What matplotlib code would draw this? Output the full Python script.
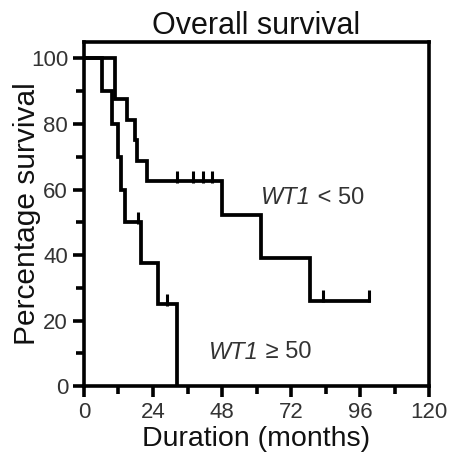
import numpy as np
import matplotlib
matplotlib.use("Agg")
import matplotlib.pyplot as plt

plt.rcParams['font.family'] = ['Liberation Sans', 'DejaVu Sans']

# Kaplan-Meier steps (months, % survival)
low_t = [0, 10.8, 14.8, 17.7, 18.3, 21.8, 47.9, 61.4, 78.5, 99]
low_s = [100, 87.5, 81.25, 75, 68.75, 62.5, 52.1, 39.1, 26.0, 26.0]
low_cens_t = [32.3, 37.8, 41.3, 44.4, 83, 99]
low_cens_s = [62.5, 62.5, 62.5, 62.5, 26.0, 26.0]

high_t = [0, 6.2, 9.6, 11.8, 12.8, 14.2, 20.0, 25.7, 32.3]
high_s = [100, 90, 80, 70, 60, 50, 37.5, 25, 0]
high_cens_t = [18.8, 29.0]
high_cens_s = [50, 25]

x_ticks = [0, 24, 48, 72, 96, 120]
y_ticks = [0, 20, 40, 60, 80, 100]

fig = plt.figure(figsize=(4.54, 4.57), dpi=100)
ax = fig.add_axes([0.185, 0.155, 0.76, 0.753])

lw = 2.7
ax.step(low_t, low_s, where='post', color='black', lw=lw, solid_joinstyle='miter')
ax.step(high_t, high_s, where='post', color='black', lw=lw, solid_joinstyle='miter')
ax.plot(low_cens_t, np.array(low_cens_s) + 1.4, '|', color='black', ms=8, mew=2.2)
ax.plot(high_cens_t, np.array(high_cens_s) + 1.4, '|', color='black', ms=8, mew=2.2)

ax.set_xlim(0, 120)
ax.set_ylim(0, 105)
ax.set_xticks(x_ticks)
ax.set_xticks(np.arange(12, 120, 24), minor=True)
ax.set_yticks(y_ticks)
ax.set_yticks(np.arange(10, 100, 20), minor=True)
for s in ax.spines.values():
    s.set_linewidth(2.6)
ax.tick_params(which='major', direction='out', length=8, width=2.6, labelsize=16,
               colors='black', labelcolor='#333333')
ax.tick_params(which='minor', direction='out', length=6, width=2.6)

ax.set_title('Overall survival', fontsize=22, pad=6, color='#111111')
ax.set_xlabel('Duration (months)', fontsize=20.5, labelpad=2, color='#111111')
ax.set_ylabel('Percentage survival', fontsize=21.5, color='#111111')
ax.yaxis.set_label_coords(-0.125, 0.5)

# group labels: italic gene name followed by upright threshold
t1 = ax.text(61.5, 57.5, 'WT1', fontsize=17, style='italic', va='center', color='#333333')
ax.annotate(' < 50', xy=(1, 0.5), xycoords=t1, va='center', fontsize=17, color='#333333')
t2 = ax.text(43.5, 10.4, 'WT1', fontsize=17, style='italic', va='center', color='#333333')
ax.annotate(' ≥ 50', xy=(1, 0.5), xycoords=t2, va='center', fontsize=17, color='#333333')

fig.savefig('out.png', dpi=100)
